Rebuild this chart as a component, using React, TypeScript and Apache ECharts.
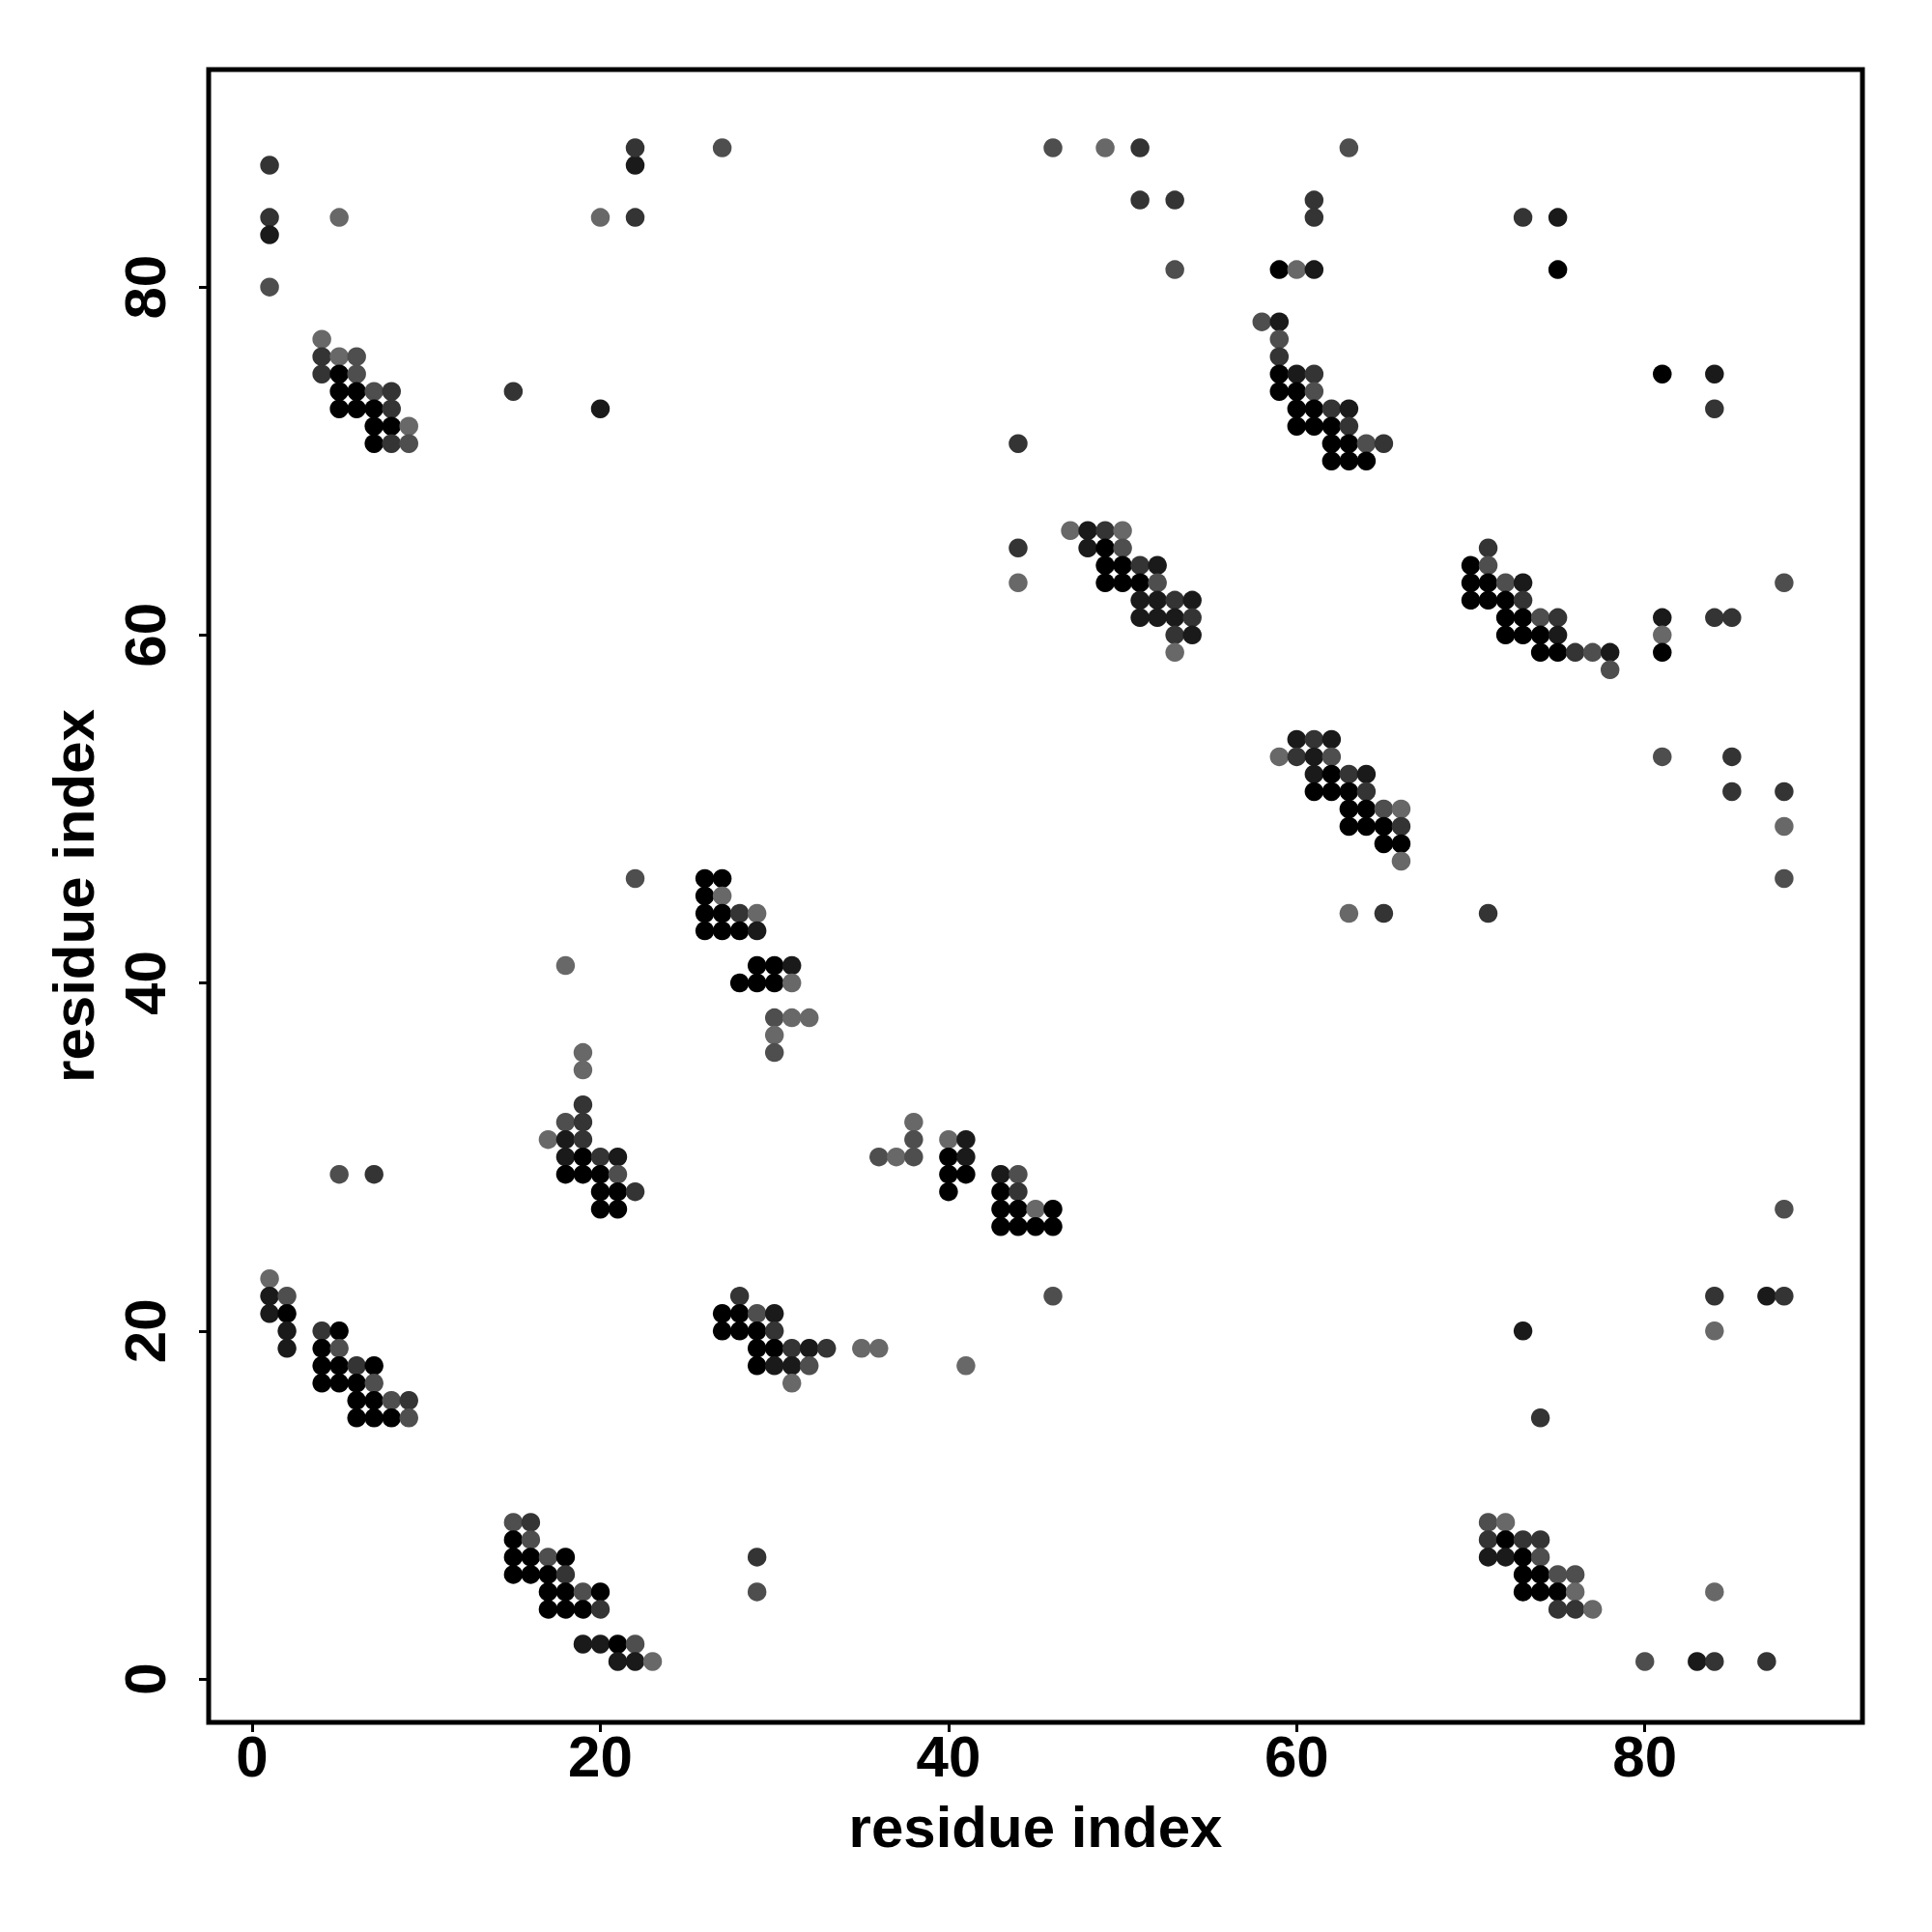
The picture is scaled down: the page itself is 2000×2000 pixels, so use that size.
import React, { useEffect, useRef } from "react";
import * as echarts from "echarts";

// Each entry: [residue i, residue j, contact probability]
type Pt = [number, number, number];

const tickValues = [0, 20, 40, 60, 80];
const axisTitle = "residue index";

const topLeftCluster: Pt[] = [
  [1, 87, 0.7], [1, 84, 0.7], [1, 83, 0.85], [1, 80, 0.55], [5, 84, 0.4],
  [4, 77, 0.4], [4, 76, 0.7], [5, 76, 0.4], [6, 76, 0.55], [4, 75, 0.7], [5, 75, 1], [6, 75, 0.55],
  [5, 74, 1], [6, 74, 1], [7, 74, 0.55], [8, 74, 0.7], [5, 73, 1], [6, 73, 1], [7, 73, 1], [8, 73, 0.7],
  [7, 72, 1], [8, 72, 1], [9, 72, 0.4], [7, 71, 1], [8, 71, 0.7], [9, 71, 0.55],
];

const topScattered: Pt[] = [
  [15, 74, 0.7], [20, 73, 0.85], [20, 84, 0.4], [22, 84, 0.7], [22, 87, 0.85], [22, 88, 0.7], [27, 88, 0.55],
  [46, 88, 0.55], [49, 88, 0.4], [51, 88, 0.7], [63, 88, 0.55], [51, 85, 0.7], [53, 85, 0.7], [61, 85, 0.7],
  [61, 84, 0.7], [53, 81, 0.55], [59, 81, 1], [60, 81, 0.4], [61, 81, 0.85],
];

const cluster58to65: Pt[] = [
  [58, 78, 0.55], [59, 78, 0.85], [59, 77, 0.55], [59, 76, 0.7], [59, 75, 1], [60, 75, 0.85], [61, 75, 0.7],
  [59, 74, 1], [60, 74, 1], [61, 74, 0.55], [60, 73, 1], [61, 73, 1], [62, 73, 0.7], [63, 73, 0.85],
  [60, 72, 1], [61, 72, 1], [62, 72, 1], [63, 72, 0.7], [62, 71, 1], [63, 71, 1], [64, 71, 0.55], [65, 71, 0.7],
  [62, 70, 1], [63, 70, 1], [64, 70, 1],
];

const upperRightScattered: Pt[] = [
  [73, 84, 0.7], [75, 84, 0.85], [75, 81, 1], [81, 75, 1], [84, 75, 0.85], [84, 73, 0.7], [88, 63, 0.55],
  [81, 61, 0.85], [81, 60, 0.4], [81, 59, 1], [84, 61, 0.7], [85, 61, 0.7],
];

const cluster47to54: Pt[] = [
  [44, 71, 0.7], [44, 65, 0.7], [44, 63, 0.4],
  [47, 66, 0.4], [48, 66, 0.85], [49, 66, 0.7], [50, 66, 0.4], [48, 65, 0.85], [49, 65, 1], [50, 65, 0.55],
  [49, 64, 1], [50, 64, 1], [51, 64, 0.7], [52, 64, 0.85], [49, 63, 1], [50, 63, 1], [51, 63, 1], [52, 63, 0.55],
  [51, 62, 0.85], [52, 62, 0.85], [53, 62, 0.7], [54, 62, 0.85], [51, 61, 0.85], [52, 61, 0.85], [53, 61, 0.85],
  [54, 61, 0.7], [53, 60, 0.7], [54, 60, 0.85], [53, 59, 0.4],
];

const cluster70to78: Pt[] = [
  [71, 65, 0.7], [70, 64, 1], [71, 64, 0.55], [70, 63, 1], [71, 63, 1], [72, 63, 0.55], [73, 63, 0.85],
  [70, 62, 1], [71, 62, 1], [72, 62, 1], [73, 62, 0.7], [72, 61, 1], [73, 61, 1], [74, 61, 0.55], [75, 61, 0.7],
  [72, 60, 1], [73, 60, 1], [74, 60, 1], [75, 60, 0.85], [74, 59, 1], [75, 59, 1], [76, 59, 0.7], [77, 59, 0.55],
  [78, 59, 0.85], [78, 58, 0.55],
];

const cluster59to66: Pt[] = [
  [60, 54, 0.85], [61, 54, 0.7], [62, 54, 0.85], [59, 53, 0.4], [60, 53, 0.7], [61, 53, 0.85], [62, 53, 0.55],
  [61, 52, 0.85], [62, 52, 1], [63, 52, 0.7], [64, 52, 0.85], [61, 51, 1], [62, 51, 1], [63, 51, 1], [64, 51, 0.7],
  [63, 50, 1], [64, 50, 1], [65, 50, 0.55], [66, 50, 0.4], [63, 49, 1], [64, 49, 1], [65, 49, 1], [66, 49, 0.7],
  [65, 48, 1], [66, 48, 1], [66, 47, 0.4], [63, 44, 0.4], [65, 44, 0.7], [71, 44, 0.7],
];

const rightEdgeScattered: Pt[] = [
  [81, 53, 0.55], [85, 53, 0.7], [85, 51, 0.7], [88, 51, 0.7], [88, 49, 0.4], [88, 46, 0.55], [88, 27, 0.55],
  [84, 22, 0.7], [87, 22, 0.85], [88, 22, 0.7], [84, 20, 0.4], [73, 20, 0.85], [74, 15, 0.7], [84, 5, 0.4],
  [80, 1, 0.55], [83, 1, 0.85], [84, 1, 0.7], [87, 1, 0.7],
];

const cluster26to32: Pt[] = [
  [22, 46, 0.55], [26, 46, 1], [27, 46, 1], [26, 45, 1], [27, 45, 0.4], [26, 44, 1], [27, 44, 1], [28, 44, 0.7],
  [29, 44, 0.4], [26, 43, 1], [27, 43, 1], [28, 43, 1], [29, 43, 0.85], [29, 41, 1], [30, 41, 1], [31, 41, 0.85],
  [28, 40, 1], [29, 40, 1], [30, 40, 1], [31, 40, 0.4], [30, 38, 0.55], [31, 38, 0.4], [32, 38, 0.4],
  [30, 37, 0.4], [30, 36, 0.55],
];

const cluster17to22: Pt[] = [
  [18, 41, 0.4], [19, 36, 0.4], [19, 35, 0.4], [19, 33, 0.7], [18, 32, 0.55], [19, 32, 0.7], [17, 31, 0.4],
  [18, 31, 0.85], [19, 31, 0.7], [18, 30, 0.85], [19, 30, 1], [20, 30, 0.7], [21, 30, 0.85], [18, 29, 1],
  [19, 29, 1], [20, 29, 1], [21, 29, 0.55], [20, 28, 1], [21, 28, 1], [22, 28, 0.7], [20, 27, 1], [21, 27, 1],
  [5, 29, 0.55], [7, 29, 0.7],
];

const cluster36to46: Pt[] = [
  [38, 32, 0.4], [38, 31, 0.55], [40, 31, 0.4], [41, 31, 0.85], [36, 30, 0.55], [37, 30, 0.4], [38, 30, 0.55],
  [40, 30, 1], [41, 30, 0.85], [40, 29, 1], [41, 29, 1], [43, 29, 0.85], [44, 29, 0.55], [40, 28, 1], [43, 28, 1],
  [44, 28, 0.7], [43, 27, 1], [44, 27, 1], [45, 27, 0.4], [46, 27, 1], [43, 26, 1], [44, 26, 1], [45, 26, 1],
  [46, 26, 1], [46, 22, 0.55],
];

const cluster1to9: Pt[] = [
  [1, 23, 0.4], [1, 22, 0.85], [2, 22, 0.55], [1, 21, 0.85], [2, 21, 1], [2, 20, 0.85], [4, 20, 0.7], [5, 20, 1],
  [2, 19, 0.85], [4, 19, 1], [5, 19, 0.55], [4, 18, 1], [5, 18, 1], [6, 18, 0.7], [7, 18, 1], [4, 17, 1],
  [5, 17, 1], [6, 17, 1], [7, 17, 0.55], [6, 16, 1], [7, 16, 1], [8, 16, 0.55], [9, 16, 0.7], [6, 15, 1],
  [7, 15, 1], [8, 15, 1], [9, 15, 0.55],
];

const cluster27to36: Pt[] = [
  [28, 22, 0.7], [27, 21, 1], [28, 21, 1], [29, 21, 0.55], [30, 21, 0.85], [27, 20, 1], [28, 20, 1], [29, 20, 1],
  [30, 20, 0.7], [29, 19, 1], [30, 19, 1], [31, 19, 0.7], [32, 19, 0.85], [33, 19, 0.7], [35, 19, 0.4],
  [36, 19, 0.4], [29, 18, 1], [30, 18, 0.85], [31, 18, 0.85], [32, 18, 0.55], [41, 18, 0.4], [31, 17, 0.4],
];

const cluster15to23: Pt[] = [
  [15, 9, 0.55], [16, 9, 0.7], [15, 8, 1], [16, 8, 0.55], [15, 7, 1], [16, 7, 1], [17, 7, 0.55], [18, 7, 1],
  [15, 6, 1], [16, 6, 1], [17, 6, 1], [18, 6, 0.7], [17, 5, 1], [18, 5, 1], [19, 5, 0.55], [20, 5, 1],
  [17, 4, 1], [18, 4, 1], [19, 4, 1], [20, 4, 0.7], [19, 2, 0.85], [20, 2, 0.85], [21, 2, 1], [22, 2, 0.55],
  [21, 1, 0.85], [22, 1, 0.85], [23, 1, 0.4], [29, 7, 0.7], [29, 5, 0.55],
];

const cluster71to77: Pt[] = [
  [71, 9, 0.55], [72, 9, 0.4], [71, 8, 0.7], [72, 8, 1], [73, 8, 0.7], [74, 8, 0.7], [71, 7, 0.85], [72, 7, 0.85],
  [73, 7, 1], [74, 7, 0.55], [73, 6, 1], [74, 6, 1], [75, 6, 0.55], [76, 6, 0.55], [73, 5, 1], [74, 5, 1],
  [75, 5, 1], [76, 5, 0.4], [75, 4, 0.7], [76, 4, 0.7], [77, 4, 0.4],
];

const allPoints: Pt[] = [
  ...topLeftCluster, ...topScattered, ...cluster58to65, ...upperRightScattered, ...cluster47to54,
  ...cluster70to78, ...cluster59to66, ...rightEdgeScattered, ...cluster26to32, ...cluster17to22,
  ...cluster36to46, ...cluster1to9, ...cluster27to36, ...cluster15to23, ...cluster71to77,
];

const FONT = "'Liberation Sans', Arial, Helvetica, sans-serif";

export default function App() {
  const ref = useRef<HTMLDivElement>(null);
  useEffect(() => {
    if (!ref.current) return;
    const chart = echarts.init(ref.current, undefined, { renderer: "svg" });
    const labelStyle = { fontSize: 60, fontWeight: "bold" as const, color: "#000", fontFamily: FONT };
    chart.setOption({
      animation: false,
      backgroundColor: "#ffffff",
      grid: {
        left: 216, top: 72, width: 1712, height: 1711,
        show: true, borderColor: "#000", borderWidth: 5, backgroundColor: "transparent",
      },
      visualMap: {
        show: false, type: "continuous", dimension: 2, min: 0.4, max: 1,
        inRange: { color: ["#686868", "#000000"] },
      },
      xAxis: {
        type: "value", min: -2.5, max: 92.5, position: "bottom",
        name: axisTitle, nameLocation: "middle", nameGap: 78, nameTextStyle: labelStyle,
        axisLine: { show: false, onZero: false }, splitLine: { show: false },
        axisTick: { show: true, length: 10, lineStyle: { color: "#000", width: 3 }, customValues: tickValues },
        axisLabel: { ...labelStyle, margin: 5, customValues: tickValues },
      },
      yAxis: {
        type: "value", min: -2.5, max: 92.5, position: "left",
        name: axisTitle, nameLocation: "middle", nameGap: 110, nameTextStyle: labelStyle,
        axisLine: { show: false, onZero: false }, splitLine: { show: false },
        axisTick: { show: true, length: 10, lineStyle: { color: "#000", width: 3 }, customValues: tickValues },
        axisLabel: { ...labelStyle, margin: 36, rotate: 90, customValues: tickValues },
      },
      series: [
        {
          type: "scatter",
          symbol: "circle",
          symbolSize: 19.5,
          data: allPoints,
          itemStyle: { opacity: 1 },
        },
      ],
    });
    return () => chart.dispose();
  }, []);
  return (
    <div
      ref={ref}
      style={{ position: "absolute", left: 0, top: 0, width: 2000, height: 2000, background: "#fff" }}
    />
  );
}
